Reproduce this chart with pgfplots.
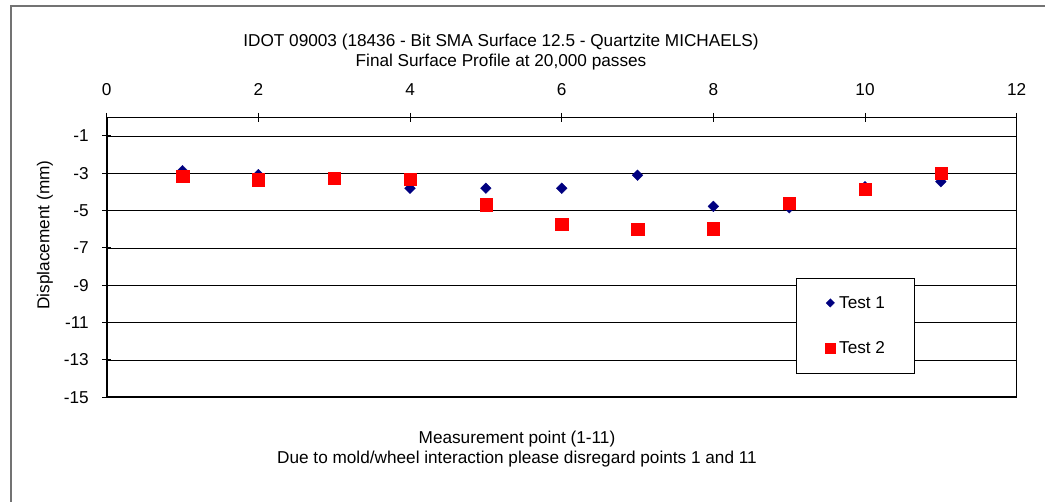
\documentclass[border=0pt]{standalone}
\usepackage{pgfplots}
\pgfplotsset{compat=1.18}
\usepackage{fontspec}
\setmainfont{Liberation Sans}
\definecolor{navyblue}{HTML}{000080}
\definecolor{pure red}{HTML}{FF0000}
\newcommand{\fs}{\fontsize{17.2}{19.2}\selectfont}
\begin{document}
\begin{tikzpicture}
\useasboundingbox (0pt,0pt) rectangle (1045pt,-502pt);
\fill[white] (0pt,0pt) rectangle (1045pt,-502pt);
\draw[black!55, line width=1.3pt] (11pt,-502pt) -- (11pt,-6pt) -- (1045pt,-6pt);
\node[align=center, font=\fs, inner sep=0pt] at (501pt,-52pt) {IDOT 09003 (18436 - Bit SMA Surface 12.5 - Quartzite MICHAELS)\\Final Surface Profile at 20,000 passes};
\node[align=center, font=\fs, inner sep=0pt] at (517pt,-449pt) {Measurement point (1-11)\\Due to mold/wheel interaction please disregard points 1 and 11};
\node[rotate=90, font=\fs, inner sep=0pt] at (45pt,-235pt) {Displacement (mm)};
\begin{axis}[
  at={(106.7pt,-397.3pt)}, anchor=south west,
  scale only axis, width=910pt, height=280pt,
  xmin=0, xmax=12, ymin=-15, ymax=0,
  xtick={0,2,4,6,8,10,12}, xticklabels={0,2,4,6,8,10,12},
  ytick={-15,-13,-11,-9,-7,-5,-3,-1},
  yticklabels={-15,-13,-11,-9,-7,-5,-3,-1},
  xtick pos=right, xticklabel pos=right, ytick pos=left,
  tick align=center, major tick length=9pt,
  tick style={black, line width=1pt},
  axis line style={black, line width=1pt},
  ymajorgrids, grid style={black, line width=0.9pt},
  ticklabel style={font=\fs},
  xticklabel style={yshift=14pt},
  yticklabel style={xshift=-10pt},
  legend style={at={(0.7575,0.427)}, anchor=north west, draw=black, line width=1pt, fill=white,
    font=\fs, inner xsep=29pt, inner ysep=18pt, row sep=32pt,
    nodes={inner sep=0pt},
    /tikz/every odd column/.style={column sep=4pt}},
  legend image code/.code={\path[draw=none, fill=none] (0pt,-6pt) rectangle (8pt,6pt); \draw[#1] plot coordinates {(4pt,0pt)};},
]
\addplot[only marks, mark=square*, mark size=3.8pt, mark options={rotate=45, fill=navyblue, draw=navyblue, line width=0.3pt},
  legend image post style={mark size=3.0pt, draw=none}]
  coordinates {(1,-2.86) (2,-3.07) (3,-3.3) (4,-3.8) (5,-3.8) (6,-3.8) (7,-3.1) (8,-4.77) (9,-4.85) (10,-3.72) (11,-3.45)};
\addlegendentry{Test 1}
\addplot[only marks, mark=square*, mark size=6.2pt, mark options={fill=pure red, draw=pure red, line width=0.3pt},
  legend image post style={mark size=4.8pt, draw=none}]
  coordinates {(1,-3.16) (2,-3.34) (3,-3.25) (4,-3.3) (5,-4.67) (6,-5.74) (7,-5.99) (8,-5.96) (9,-4.6) (10,-3.86) (11,-2.98)};
\addlegendentry{Test 2}
\draw[line width=2pt] (axis cs:0,-15) -- (axis cs:0,0) -- (axis cs:12,0);
\draw[line width=2pt] (axis cs:0,-15) -- (axis cs:12,-15);
\end{axis}
\end{tikzpicture}
\end{document}
